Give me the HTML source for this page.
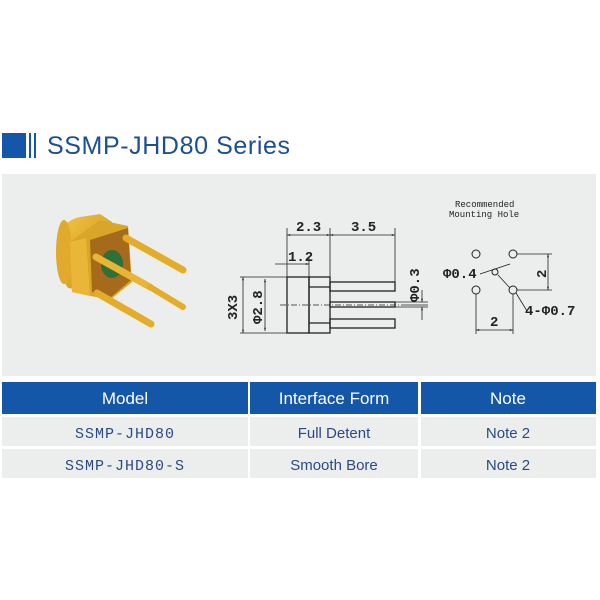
<!DOCTYPE html>
<html><head><style>
body{margin:0;background:#fff;width:600px;height:600px;overflow:hidden;font-family:"Liberation Sans",sans-serif}
</style></head><body>
<svg width="600" height="600" xmlns="http://www.w3.org/2000/svg" style="position:absolute;left:0;top:0">
<defs>
<linearGradient id="g" x1="0" y1="0" x2="1" y2="1"><stop offset="0" stop-color="#f3c74a"/><stop offset="1" stop-color="#c98f10"/></linearGradient>
<marker id="a" viewBox="0 0 10 10" refX="10" refY="5" markerWidth="6" markerHeight="4" orient="auto-start-reverse"><path d="M0,2 L10,5 L0,8z" fill="#222"/></marker>
</defs>
<text x="47" y="154" font-size="25" fill="#1b4f94" font-family="Liberation Sans, DejaVu Sans, sans-serif" letter-spacing="0.6">SSMP-JHD80 Series</text>
<rect x="2" y="133" width="24" height="25" fill="#1456a8"/>
<rect x="29" y="133" width="2" height="25" fill="#1456a8"/>
<rect x="34" y="133" width="2" height="25" fill="#1456a8"/>
<rect x="2" y="174" width="594" height="202" fill="#eceeed"/>
<!-- connector image -->
<g>
<path d="M60 232 Q66 220 80 217 L100 214 L112 222 L112 270 L84 290 L68 288 Q56 270 56 252z" fill="url(#g)"/>
<ellipse cx="64" cy="252" rx="8" ry="32" fill="#e2aa2c"/>
<path d="M70 242 L100 220 L128 226 L132 282 L110 300 L72 292z" fill="#d9a62a"/>
<path d="M70 242 L86 238 L90 296 L72 292z" fill="#e9b638"/>
<path d="M90 240 L128 228 L131 280 L110 298 L92 292z" fill="#a66a1c"/>
<ellipse cx="112" cy="264" rx="11" ry="14" fill="#2f6f3a"/>
<line x1="126" y1="238" x2="183" y2="270" stroke="#e3ad2a" stroke-width="7" stroke-linecap="round"/>
<line x1="96" y1="257" x2="150" y2="287" stroke="#e8b535" stroke-width="7" stroke-linecap="round"/>
<line x1="150" y1="287" x2="183" y2="307" stroke="#e3ad2a" stroke-width="6" stroke-linecap="round"/>
<line x1="97" y1="293" x2="151" y2="324" stroke="#e3ad2a" stroke-width="7" stroke-linecap="round"/>
</g>
<!-- side view -->
<g stroke="#222" stroke-width="1.3" fill="none">
<rect x="287" y="277" width="22" height="56"/>
<rect x="309" y="277" width="21" height="56"/>
<line x1="309" y1="287" x2="330" y2="287"/><line x1="309" y1="323" x2="330" y2="323"/>
<rect x="330" y="282" width="65" height="9"/>
<rect x="330" y="302" width="65" height="5"/>
<rect x="330" y="319" width="65" height="9"/>
<line x1="280" y1="305" x2="405" y2="305" stroke-dasharray="6,2,1,2" stroke-width="0.8"/>
<line x1="405" y1="305" x2="428" y2="305" stroke-width="0.8"/>
<line x1="287" y1="228" x2="287" y2="277" stroke-width="0.8"/>
<line x1="330" y1="228" x2="330" y2="277" stroke-width="0.8"/>
<line x1="395" y1="228" x2="395" y2="282" stroke-width="0.8"/>
<line x1="309" y1="258" x2="309" y2="277" stroke-width="0.8"/>
<line x1="287" y1="235" x2="330" y2="235" stroke-width="0.8" marker-start="url(#a)" marker-end="url(#a)"/>
<line x1="330" y1="235" x2="395" y2="235" stroke-width="0.8" marker-start="url(#a)" marker-end="url(#a)"/>
<line x1="275" y1="264" x2="309" y2="264" stroke-width="0.8" marker-end="url(#a)"/>
<line x1="240" y1="277" x2="287" y2="277" stroke-width="0.8"/>
<line x1="240" y1="333" x2="287" y2="333" stroke-width="0.8"/>
<line x1="243" y1="277" x2="243" y2="333" stroke-width="0.8" marker-start="url(#a)" marker-end="url(#a)"/>
<line x1="265" y1="279" x2="265" y2="331" stroke-width="0.8" marker-start="url(#a)" marker-end="url(#a)"/>
<line x1="422" y1="290" x2="422" y2="302" stroke-width="0.8" marker-end="url(#a)"/>
<line x1="422" y1="320" x2="422" y2="307" stroke-width="0.8" marker-end="url(#a)"/>
<line x1="395" y1="302" x2="428" y2="302" stroke-width="0.8"/>
<line x1="395" y1="307" x2="428" y2="307" stroke-width="0.8"/>
</g>
<g font-family="Liberation Mono, monospace" font-size="14" font-weight="bold" fill="#222">
<text x="296" y="231">2.3</text>
<text x="351" y="231">3.5</text>
<text x="288" y="261">1.2</text>
<text transform="translate(237,320) rotate(-90)">3X3</text>
<text transform="translate(262,324) rotate(-90)">Φ2.8</text>
<text transform="translate(419,302) rotate(-90)">Φ0.3</text>
<text x="443" y="278">Φ0.4</text>
<text x="525" y="315">4-Φ0.7</text>
<text transform="translate(546,278) rotate(-90)">2</text>
<text x="490" y="326">2</text>
<text x="455" y="207" font-size="9" font-weight="normal">Recommended</text>
<text x="449" y="217" font-size="9" font-weight="normal">Mounting Hole</text>
</g>
<g stroke="#222" stroke-width="1" fill="none">
<circle cx="476" cy="254" r="4"/><circle cx="513" cy="254" r="4"/>
<circle cx="476" cy="290" r="4"/><circle cx="513" cy="290" r="4"/>
<circle cx="495" cy="272" r="3"/>
<line x1="480" y1="274" x2="510" y2="264" stroke-width="0.8"/>
<line x1="498" y1="275" x2="510" y2="288" stroke-width="0.8"/>
<line x1="516" y1="293" x2="527" y2="311" stroke-width="0.8"/>
<line x1="517" y1="254" x2="552" y2="254" stroke-width="0.8"/>
<line x1="517" y1="290" x2="552" y2="290" stroke-width="0.8"/>
<line x1="548" y1="254" x2="548" y2="290" stroke-width="0.8" marker-start="url(#a)" marker-end="url(#a)"/>
<line x1="476" y1="294" x2="476" y2="334" stroke-width="0.8"/>
<line x1="513" y1="294" x2="513" y2="334" stroke-width="0.8"/>
<line x1="476" y1="330" x2="513" y2="330" stroke-width="0.8" marker-start="url(#a)" marker-end="url(#a)"/>
</g>
<g>
<rect x="2" y="382" width="246" height="32" fill="#1456a8"/>
<rect x="250" y="382" width="168" height="32" fill="#1456a8"/>
<rect x="421" y="382" width="175" height="32" fill="#1456a8"/>
<rect x="2" y="417" width="246" height="29" fill="#eceeed"/>
<rect x="250" y="417" width="168" height="29" fill="#eceeed"/>
<rect x="421" y="417" width="175" height="29" fill="#eceeed"/>
<rect x="2" y="449" width="246" height="29" fill="#eceeed"/>
<rect x="250" y="449" width="168" height="29" fill="#eceeed"/>
<rect x="421" y="449" width="175" height="29" fill="#eceeed"/>
</g>
<g font-size="17" fill="#fff" text-anchor="middle">
<text x="125" y="404">Model</text><text x="334" y="404">Interface Form</text><text x="508" y="404">Note</text>
</g>
<g font-size="15" fill="#2a4a86" text-anchor="middle">
<text x="125" y="438" font-family="Liberation Mono, monospace" letter-spacing="1">SSMP-JHD80</text>
<text x="125" y="470" font-family="Liberation Mono, monospace" letter-spacing="1">SSMP-JHD80-S</text>
<text x="334" y="438">Full Detent</text><text x="334" y="470">Smooth Bore</text>
<text x="508" y="438">Note 2</text><text x="508" y="470">Note 2</text>
</g>
</svg>
</body></html>
